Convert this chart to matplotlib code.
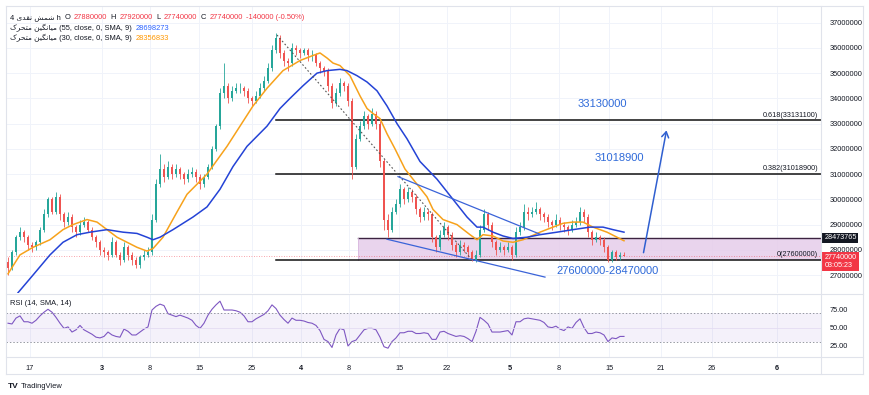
import matplotlib
matplotlib.use('Agg')
import matplotlib.pyplot as plt
from matplotlib.patches import Rectangle, FancyArrowPatch
from matplotlib.transforms import blended_transform_factory
from matplotlib.lines import Line2D

# ---- data (prices in millions) ----
first_open = 27.5
close = [27.3, 27.9, 28.5, 28.7, 28.5, 28.2, 28.1, 28.3, 28.8, 29.4,
         30.0, 29.5, 30.1, 29.4, 29.1, 29.3, 28.9, 28.7, 29.0, 29.1,
         28.8, 28.5, 28.3, 28.0, 27.9, 27.8, 28.3, 27.8, 27.6, 28.1,
         27.8, 27.6, 27.4, 27.7, 27.8, 27.9, 29.2, 30.6, 31.2, 30.9,
         31.3, 31.0, 31.2, 31.0, 30.8, 31.0, 31.1, 30.9, 30.6, 30.9,
         31.3, 32.0, 32.9, 34.2, 34.5, 34.0, 34.3, 34.4, 34.4, 34.3,
         34.0, 33.9, 34.1, 34.4, 34.7, 35.2, 35.9, 36.4, 35.8, 35.5,
         35.4, 36.0, 35.9, 35.8, 35.9, 35.7, 35.7, 35.4, 35.2, 35.1,
         34.5, 33.8, 34.2, 34.6, 34.5, 33.9, 31.3, 32.4, 32.9, 33.3,
         33.0, 33.4, 33.0, 31.5, 29.2, 28.8, 29.5, 29.8, 30.4, 30.0,
         30.3, 30.1, 29.6, 29.3, 29.5, 29.4, 28.5, 28.1, 28.6, 28.9,
         28.6, 28.2, 27.9, 28.2, 28.1, 27.9, 27.6, 27.8, 28.8, 29.4,
         29.0, 28.3, 28.0, 28.1, 28.0, 28.1, 27.8, 28.7, 28.9, 29.5,
         29.4, 29.5, 29.6, 29.4, 29.3, 29.1, 29.0, 29.2, 29.0, 28.9,
         28.8, 29.0, 29.1, 29.5, 29.3, 28.7, 28.4, 28.5, 28.4, 28.1,
         27.6, 27.9, 27.7, 27.8, 27.74]
high = [27.7, 28.0, 28.6, 28.9, 28.8, 28.6, 28.3, 28.4, 28.9, 29.6,
        30.1, 30.1, 30.3, 30.2, 29.5, 29.5, 29.4, 29.0, 29.2, 29.3,
        29.2, 28.9, 28.6, 28.4, 28.1, 28.0, 28.5, 28.4, 27.9, 28.3,
        28.2, 27.9, 27.7, 27.8, 28.0, 28.1, 29.4, 30.8, 31.8, 31.4,
        31.5, 31.4, 31.4, 31.3, 31.1, 31.2, 31.3, 31.2, 31.0, 31.0,
        31.4, 32.1, 33.0, 34.4, 35.4, 34.6, 34.5, 34.6, 34.6, 34.5,
        34.4, 34.1, 34.3, 34.6, 34.9, 35.4, 36.1, 36.6, 36.5, 35.9,
        35.6, 36.2, 36.1, 36.0, 36.0, 36.0, 35.9, 35.8, 35.5, 35.3,
        35.2, 34.6, 34.4, 34.8, 34.7, 34.6, 34.0, 32.6, 33.1, 33.5,
        33.4, 33.6, 33.5, 33.1, 31.6, 29.4, 29.7, 30.0, 30.6, 30.5,
        30.5, 30.4, 30.2, 29.7, 29.7, 29.6, 29.5, 28.6, 28.8, 29.1,
        29.0, 28.7, 28.3, 28.4, 28.3, 28.2, 28.0, 28.0, 29.0, 29.6,
        29.5, 29.1, 28.4, 28.3, 28.2, 28.3, 28.2, 28.9, 29.1, 29.8,
        29.7, 29.7, 29.9, 29.7, 29.5, 29.4, 29.2, 29.4, 29.3, 29.1,
        29.0, 29.2, 29.3, 29.7, 29.6, 29.4, 28.8, 28.7, 28.6, 28.5,
        28.2, 28.0, 28.0, 27.9, 27.92]
low = [27.0, 27.2, 27.8, 28.4, 28.3, 28.0, 27.9, 28.0, 28.2, 28.7,
       29.3, 29.4, 29.4, 29.2, 28.9, 29.0, 28.7, 28.5, 28.6, 28.9,
       28.7, 28.4, 28.1, 27.8, 27.7, 27.6, 27.7, 27.7, 27.4, 27.5,
       27.6, 27.4, 27.3, 27.3, 27.6, 27.7, 27.8, 29.1, 30.5, 30.7,
       30.8, 30.8, 30.9, 30.8, 30.6, 30.7, 30.9, 30.7, 30.4, 30.5,
       30.8, 31.2, 31.9, 32.8, 34.0, 33.8, 33.9, 34.2, 34.2, 34.1,
       33.8, 33.7, 33.8, 34.0, 34.3, 34.6, 35.1, 35.8, 35.6, 35.3,
       35.1, 35.3, 35.7, 35.6, 35.7, 35.5, 35.5, 35.3, 35.0, 34.9,
       34.3, 33.6, 33.7, 34.1, 34.3, 33.7, 30.8, 31.2, 32.3, 32.8,
       32.8, 32.9, 32.8, 31.3, 28.8, 28.5, 28.7, 29.4, 29.7, 29.8,
       29.9, 29.9, 29.4, 29.1, 29.2, 29.2, 28.3, 27.9, 28.0, 28.5,
       28.4, 28.0, 27.7, 27.8, 27.9, 27.7, 27.55, 27.5, 27.7, 28.7,
       28.8, 28.1, 27.8, 27.9, 27.8, 27.9, 27.6, 27.7, 28.6, 28.8,
       29.2, 29.3, 29.4, 29.2, 29.1, 28.9, 28.8, 28.9, 28.8, 28.7,
       28.6, 28.7, 28.9, 29.0, 29.1, 28.5, 28.2, 28.3, 28.2, 27.9,
       27.5, 27.5, 27.6, 27.6, 27.74]

ma30_bar = [0, 3, 6.25, 10.5, 13.75, 16.25, 19.75, 22.25, 24.75, 27.25,
            29.75, 32.25, 34.75, 36.25, 38.75, 42.25, 44.75, 47.25, 49.75, 54.75,
            58, 61.25, 64.75, 68.75, 73, 76.25, 78, 79.75, 81.25, 83,
            85.5, 88, 89.75, 91.25, 93, 94.75, 96.75, 99.25, 102.25, 104.75,
            106.25, 108.75, 112.25, 115.5, 117.25, 118.75, 121.25, 123.75, 126.25, 128.75,
            133, 136.25, 138.75, 141.25, 143.75, 146.25, 149.75, 152.25, 154]
ma30 = [27.05, 27.8, 28.1, 28.4, 28.8, 29.0, 29.2, 29.1, 28.8, 28.5,
        28.3, 28.1, 27.95, 28.05, 28.5, 29.5, 30.2, 30.6, 31.0, 32.1,
        32.9, 33.7, 34.4, 35.1, 35.5, 35.7, 35.8, 35.6, 35.4, 35.3,
        34.9, 34.1, 33.6, 33.4, 33.2, 32.6, 32.0, 31.2, 30.6, 30.1,
        29.6, 29.2, 29.0, 28.6, 28.4, 28.6, 28.55, 28.35, 28.3, 28.4,
        28.7, 28.9, 29.05, 29.1, 29.1, 28.9, 28.7, 28.5, 28.36]

ma55_bar = [2.5, 6.25, 10.5, 13.75, 17.25, 20.5, 24.75, 28.75, 32.25, 34.75,
            36.25, 38, 41.25, 46.25, 49.75, 53, 56.25, 59.75, 64.75, 68,
            70.5, 73.75, 77.25, 79.75, 83, 84.75, 87.25, 89.75, 92.25, 94.75,
            97.25, 99.75, 103, 107.25, 111.25, 114.75, 117.25, 118.75, 121.25, 123.75,
            126.25, 129.75, 133, 137.25, 141.25, 145.5, 148.75, 151.25, 154]
ma55 = [26.3, 27.0, 27.8, 28.3, 28.6, 28.7, 28.8, 28.7, 28.65, 28.5,
        28.4, 28.5, 28.8, 29.3, 29.7, 30.4, 31.3, 32.1, 32.9, 33.6,
        34.0, 34.5, 35.0, 35.1, 35.15, 35.1, 34.9, 34.65, 34.3, 33.7,
        33.0, 32.4, 31.5, 30.8, 30.0, 29.3, 28.9, 28.9, 28.7, 28.55,
        28.45, 28.5, 28.6, 28.7, 28.8, 28.9, 28.9, 28.8, 28.7]

rsi = [56, 55, 63, 66, 58, 58, 56, 60, 66, 71,
       75, 71, 64, 56, 49, 51, 44, 47, 53, 47,
       44, 41, 37, 36, 38, 44, 40, 38, 37, 48,
       45, 40, 40, 44, 48, 51, 74, 79, 82, 80,
       69, 67, 65, 67, 65, 63, 60, 53, 49, 56,
       67, 75, 81, 86, 74, 74, 74, 73, 71, 66,
       58, 58, 62, 65, 68, 73, 81, 76, 67, 61,
       56, 63, 60, 60, 59, 57, 56, 53, 46, 34,
       31, 23, 40, 49, 47, 25, 31, 33, 40, 47,
       49, 49, 47, 37, 24, 22, 31, 36, 43, 43,
       45, 45, 42, 42, 43, 42, 34, 34, 44, 45,
       42, 40, 38, 39, 38, 35, 31, 45, 64, 60,
       55, 44, 44, 44, 45, 46, 40, 58, 58, 62,
       63, 62, 61, 60, 57, 51, 50, 52, 48, 46,
       51, 49, 57, 62, 50, 42, 42, 44, 43, 40,
       31, 36, 35, 38, 38.02]

tick_bar = [5.5, 23.5, 35.5, 47.75, 61, 73.25, 85.25, 97.75, 109.75, 125.5,
            137.75, 150.25, 163.25, 176, 192.25]
tick_lab = ['17', '3', '8', '15', '25', '4', '8', '15', '22', '5', '8', '15', '21', '26', '6']
month_lab = {1, 5, 9, 14}

fib_levels = [33.1311, 31.0189, 27.6]
fib_text = ['0.618(33131100)', '0.382(31018900)', '0(27600000)']
zone_low, zone_high = 27.6, 28.473765
last_price = 27.74

# ---- figure ----
fonts = ['Liberation Sans', 'DejaVu Sans']
plt.rcParams['font.family'] = fonts
TXT = '#131722'
UP, DN = '#26a69a', '#ef5350'
BLUE_T = '#2f6ad9'

fig = plt.figure(figsize=(8.7, 3.95), dpi=100)
W, H = 870, 395


def box(x0, y0, x1, y1):
    return [x0 / W, 1 - y1 / H, (x1 - x0) / W, (y1 - y0) / H]


ax = fig.add_axes(box(6, 6, 821, 293))
ax_r = fig.add_axes(box(6, 294, 821, 357))

n = len(close)
opens = [first_open] + close[:-1]
xs = list(range(n))
cols = [UP if c >= o else DN for o, c in zip(opens, close)]

ax.vlines(xs, low, high, colors=cols, lw=0.6, zorder=3)
ax.bar(xs, [max(abs(c - o), 0.03) for o, c in zip(opens, close)],
       bottom=[min(o, c) for o, c in zip(opens, close)],
       width=0.7, color=cols, lw=0, zorder=4)

ax.plot(ma30_bar, ma30, color='#f7a21b', lw=1.1, zorder=5)
ax.plot(ma55_bar, ma55, color='#2443d6', lw=1.1, zorder=5)

x0, x1 = -0.5, 203.25
ax.set_xlim(x0, x1)
ax.set_ylim(26.29, 37.66)

# zone
ax.add_patch(Rectangle((87.5, zone_low), x1 - 87.5, zone_high - zone_low,
                       fc='#e6cdea', ec='none', alpha=0.85, zorder=1))
ax.plot([87.5, x1], [zone_high, zone_high], color='#3b2340', lw=1.0, zorder=2)
ax.plot([87.5, 87.5], [zone_low, zone_high], color='#d9b8de', lw=0.6, zorder=2)

# fib lines
for lv, t in zip(fib_levels, fib_text):
    ax.plot([67, x1], [lv, lv], color='#111111', lw=1.1, zorder=2)
    ax.text(202.5, lv + 0.06, t, ha='right', va='bottom', fontsize=5.2, color=TXT)

# trend lines
ax.plot([67.25, 116], [36.51, 27.6], color='#555555', lw=0.8, ls=(0, (1.5, 2)), zorder=6)
ax.plot([94.75, 134.25], [28.42, 26.92], color='#3a63d8', lw=0.9, zorder=6)
ax.plot([97.5, 133], [30.9, 28.62], color='#3a63d8', lw=0.9, zorder=6)
ax.add_patch(FancyArrowPatch((158.75, 27.78), (164.75, 32.84), arrowstyle='->,head_length=4,head_width=2.5',
                             color='#2f5fd0', lw=1.1, zorder=6))

ax.text(148.5, 33.79, '33130000', ha='center', va='center', fontsize=8, color=BLUE_T)
ax.text(152.75, 31.62, '31018900', ha='center', va='center', fontsize=8, color=BLUE_T)
ax.text(150, 27.16, '27600000-28470000', ha='center', va='center', fontsize=8, color=BLUE_T)

ax.axhline(last_price, color='#f23645', lw=0.6, ls=(0, (1, 2)), alpha=0.6, zorder=2)

# grid and axis
ax.set_xticks(tick_bar)
ax.set_yticks(range(27, 38))
ax.set_yticklabels([f'{v * 1000000:d}' for v in range(27, 38)])
ax.grid(color='#f0f3fa', lw=0.7, zorder=0)
ax.set_axisbelow(True)
ax.tick_params(axis='x', length=0, labelbottom=False)
ax.yaxis.tick_right()
ax.tick_params(axis='y', length=0, pad=6, labelsize=5.3, labelcolor=TXT)
for s in ax.spines.values():
    s.set_visible(False)

tr = blended_transform_factory(ax.transAxes, ax.transData)
ax.text(1.004, zone_high, '28473765', transform=tr, ha='left', va='center', fontsize=5.2,
        color='white', bbox=dict(boxstyle='square,pad=0.25', fc='#131722', ec='none'))
ax.text(1.004, last_price - 0.2, '27740000\n03:05:23', transform=tr, ha='left', va='center',
        fontsize=5.2, color='white', linespacing=1.1,
        bbox=dict(boxstyle='square,pad=0.3', fc='#f23645', ec='none'))

# RSI panel
ax_r.plot(xs, rsi, color='#7e57c2', lw=0.8)
ax_r.set_xlim(x0, x1)
ax_r.set_ylim(10, 95.8)
ax_r.axhspan(30, 70, color='#7e57c2', alpha=0.08, lw=0)
for lv in (70, 30):
    ax_r.axhline(lv, color='#9598a1', lw=0.7, ls=(0, (1.5, 2)))
ax_r.axhline(50, color='#e4dcf2', lw=0.6)
ax_r.set_yticks([25, 50, 75])
ax_r.set_yticklabels(['25.00', '50.00', '75.00'])
ax_r.yaxis.tick_right()
ax_r.tick_params(axis='y', length=0, pad=6, labelsize=5.3, labelcolor=TXT)
ax_r.set_xticks(tick_bar)
ax_r.set_xticklabels(tick_lab)
ax_r.tick_params(axis='x', length=0, pad=6, labelsize=5.3, labelcolor=TXT)
for i, lab in enumerate(ax_r.get_xticklabels()):
    if i in month_lab:
        lab.set_fontweight('bold')
ax_r.grid(axis='x', color='#f0f3fa', lw=0.7)
ax_r.set_axisbelow(True)
for s in ax_r.spines.values():
    s.set_visible(False)

# frame lines
for (xa, ya, xb, yb) in [(6, 6, 863, 6), (6, 374, 863, 374), (6, 6, 6, 374), (863, 6, 863, 374),
                         (821, 6, 821, 374), (6, 293.5, 863, 293.5), (6, 357, 863, 357)]:
    fig.add_artist(Line2D([xa / W, xb / W], [1 - ya / H, 1 - yb / H], color='#e0e3eb', lw=0.8))

# header legend
persian_ma = '\ufb8e\ufeae\ufea4\ufe98\ufee3 \ufee6\ufbff\ufb95\ufee7\ufe8e\ufbff\ufee3'
persian_sym = '\ufbfc\ufeaa\ufed8\ufee7 \ufeb6\ufee4\ufeb7'


def row(y, parts):
    prev = None
    for txt, col in parts:
        if prev is None:
            prev = fig.text(10 / W, 1 - y / H, txt, fontsize=5.4, color=col, va='baseline')
        else:
            prev = fig.text(0, 0, txt, fontsize=5.4, color=col, va='baseline')
            prev.set_position((1.0, 0.0))
            prev.set_transform(matplotlib.transforms.offset_copy(
                matplotlib.transforms.blended_transform_factory(fig.transFigure, fig.transFigure),
                fig=fig, x=0, y=0, units='points'))
    return prev


def chain(y, parts):
    t = fig.text(10 / W, 1 - y / H, parts[0][0], fontsize=5.4, color=parts[0][1], va='baseline')
    for txt, col in parts[1:]:
        t = ax.annotate(txt, xy=(1, 0), xycoords=t, xytext=(2.5, 0), textcoords='offset points',
                        fontsize=5.4, color=col, va='bottom', annotation_clip=False)
    return t


RED = '#f23645'
chain(19, [('4 ' + persian_sym + ' h', TXT), ('O', TXT), ('27880000', RED), ('H', TXT), ('27920000', RED),
           ('L', TXT), ('27740000', RED), ('C', TXT), ('27740000', RED), ('-140000 (-0.50%)', RED)])
chain(30, [(persian_ma + ' (55, close, 0, SMA, 9)', TXT), ('28698273', '#2962ff')])
chain(40, [(persian_ma + ' (30, close, 0, SMA, 9)', TXT), ('28356833', '#ff9800')])
chain(305, [('RSI (14, SMA, 14)', TXT), ('38.02', '#7e57c2')])

fig.text(8 / W, 1 - 388 / H, 'TV', fontsize=6, fontweight='bold', color=TXT)
fig.text(21 / W, 1 - 388 / H, 'TradingView', fontsize=5.4, color=TXT)

fig.savefig('out.png', dpi=100, facecolor='white')
